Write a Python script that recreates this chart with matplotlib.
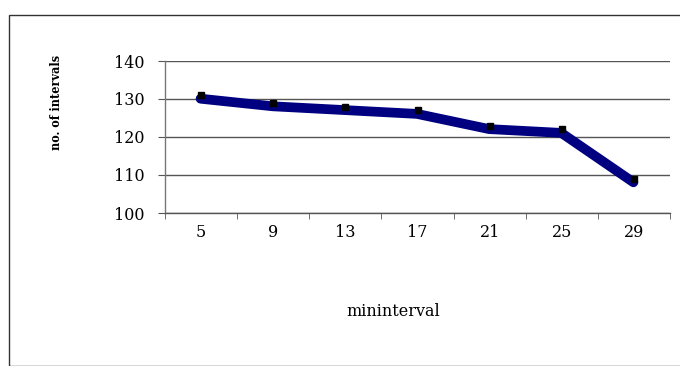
import numpy as np
import matplotlib
matplotlib.use("Agg")
import matplotlib.pyplot as plt
from matplotlib.patches import Rectangle
from matplotlib.transforms import offset_copy

# data
categories = ['5', '9', '13', '17', '21', '25', '29']
values = [131, 129, 128, 127, 123, 122, 109]
yticks = [100, 110, 120, 130, 140]

fig = plt.figure(figsize=(6.8, 3.66), dpi=100)
fig.patch.set_facecolor('white')

# outer frame (chart area border, cut off at right/bottom)
fig.patches.append(Rectangle((9/680, 0), 1.0, 1 - 15/366, transform=fig.transFigure,
                             fill=False, edgecolor='#333333', linewidth=1.0))

ax = fig.add_axes([165/680, 1 - 213/366, 505/680, 152/366])
x = np.arange(len(categories))

# thick line sits a bit below the markers (excel shadow-ish look)
line_tr = offset_copy(ax.transData, fig=fig, x=-0.5, y=-3.5, units='dots')
ax.plot(x, values, color='#000080', linewidth=7, solid_capstyle='round',
        solid_joinstyle='round', transform=line_tr, zorder=3)
ax.plot(x, values, linestyle='none', marker='s', markersize=4,
        color='black', zorder=4)

ax.set_xlim(-0.5, len(categories) - 0.5)
ax.set_ylim(100, 140)
ax.set_yticks(yticks)
ax.set_xticks(x)
ax.set_xticklabels(categories)
ax.set_xticks(np.arange(-0.5, len(categories)), minor=True)
ax.tick_params(axis='x', which='major', length=0, pad=8)
ax.tick_params(axis='x', which='minor', length=4, direction='out', color='#555555')
ax.tick_params(axis='y', length=5, direction='out', color='#555555', pad=10)
for lab in ax.get_xticklabels() + ax.get_yticklabels():
    lab.set_fontfamily('DejaVu Serif')
    lab.set_fontsize(11.5)

ax.grid(axis='y', color='#555555', linewidth=1.0)
ax.set_axisbelow(True)
for s in ['top', 'right']:
    ax.spines[s].set_visible(False)
ax.spines['left'].set_color('#777777')
ax.spines['bottom'].set_color('#555555')
ax.spines['left'].set_linewidth(1.0)
ax.spines['bottom'].set_linewidth(1.0)

fig.text(393/680, 1 - 312/366, 'mininterval', ha='center', va='center',
         fontfamily='DejaVu Serif', fontsize=11.5)
fig.text(57/680, 1 - 102/366, 'no. of intervals', ha='center', va='center',
         rotation=90, fontfamily='DejaVu Serif', fontsize=9,
         fontweight='bold', fontstretch='condensed')

fig.savefig('out.png', dpi=100)
